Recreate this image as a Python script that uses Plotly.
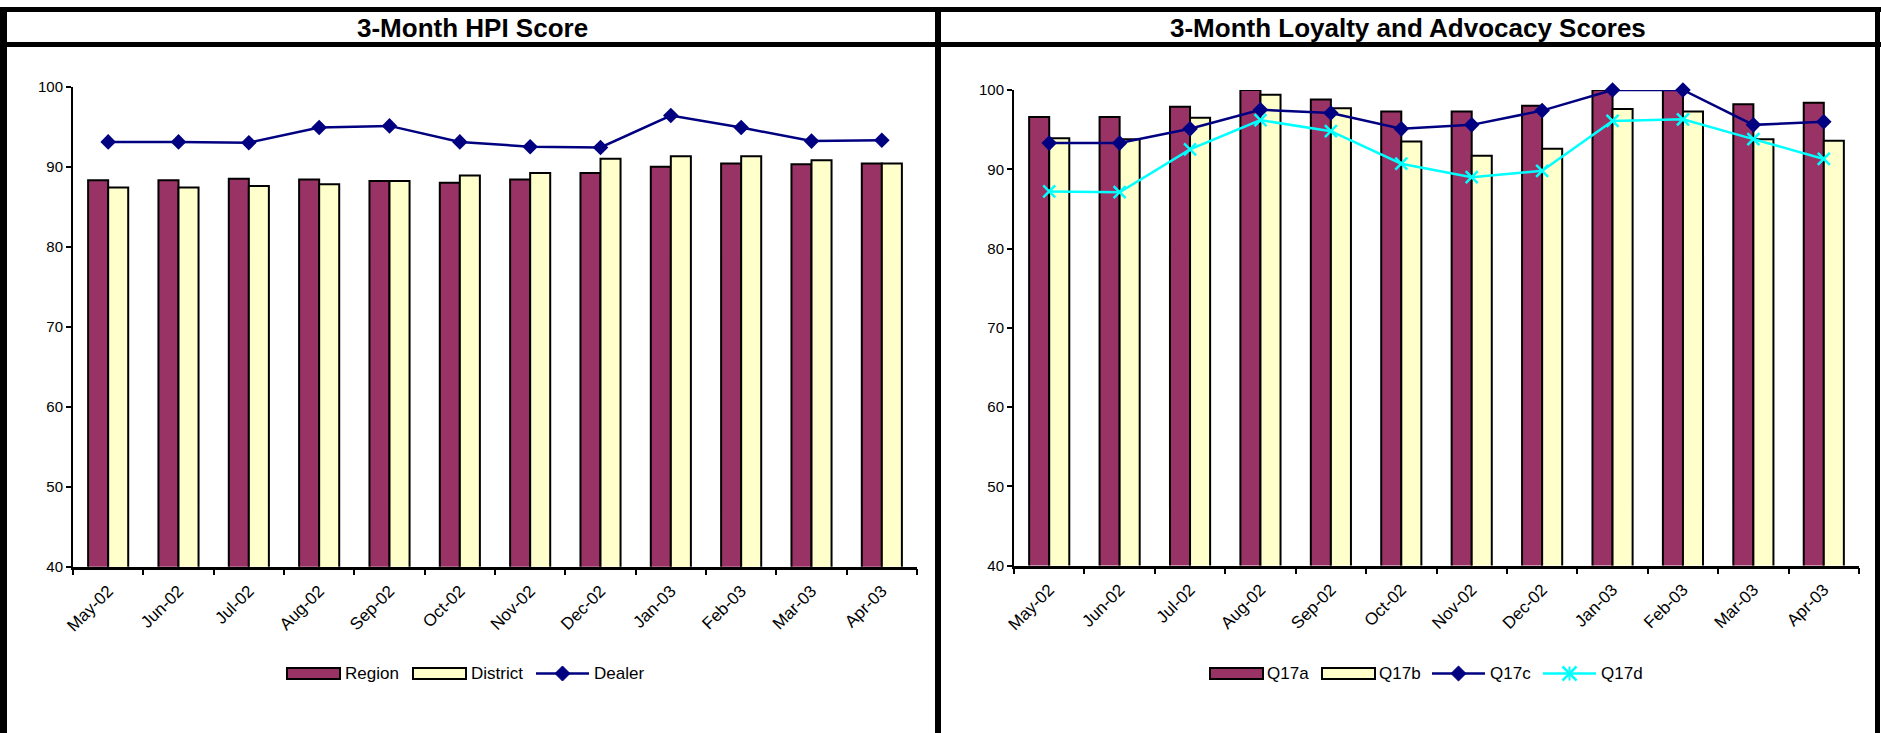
import plotly.graph_objects as go

W, H = 1881, 733

months = ["May-02", "Jun-02", "Jul-02", "Aug-02", "Sep-02", "Oct-02",
          "Nov-02", "Dec-02", "Jan-03", "Feb-03", "Mar-03", "Apr-03"]

# 3-Month HPI Score
region = [88.3, 88.3, 88.5, 88.4, 88.2, 88.0, 88.4, 89.2, 90.0, 90.4, 90.3, 90.4]
district = [87.4, 87.4, 87.6, 87.8, 88.2, 88.9, 89.2, 91.0, 91.3, 91.3, 90.8, 90.4]
dealer = [93.1, 93.1, 93.0, 94.9, 95.1, 93.1, 92.5, 92.4, 96.4, 94.9, 93.2, 93.3]

# 3-Month Loyalty and Advocacy Scores
q17a = [96.6, 96.6, 97.9, 100.0, 98.8, 97.3, 97.3, 98.0, 100.0, 100.0, 98.2, 98.4]
q17b = [93.9, 93.8, 96.5, 99.4, 97.7, 93.5, 91.7, 92.6, 97.6, 97.3, 93.8, 93.6]
q17c = [93.3, 93.3, 95.1, 97.5, 97.1, 95.1, 95.6, 97.4, 100.0, 100.0, 95.6, 96.0]
q17d = [87.2, 87.1, 92.5, 96.2, 94.8, 90.7, 89.0, 89.8, 96.1, 96.3, 93.8, 91.3]

PLUM = "#993366"
CREAM = "#FFFFCC"
NAVY = "#000080"
CYAN = "#00FFFF"
FONT = "Liberation Sans, Arial, sans-serif"


def px_x(v):
    return v / W


def px_y(v):
    return 1 - v / H


bar_line = dict(color="black", width=2)
styles = {
    "Region": ("bar", PLUM), "District": ("bar", CREAM), "Dealer": ("diamond", NAVY),
    "Q17a": ("bar", PLUM), "Q17b": ("bar", CREAM), "Q17c": ("diamond", NAVY),
    "Q17d": ("x", CYAN),
}


def bar(name, vals, ax):
    return go.Bar(x=months, y=vals, name=name, xaxis="x" + ax, yaxis="y" + ax,
                  marker=dict(color=styles[name][1], line=bar_line))


def line(name, vals, ax):
    kind, color = styles[name]
    if kind == "diamond":
        marker = dict(symbol="diamond", size=12, color=color)
    else:
        marker = dict(symbol="x-thin", size=12, color=color, line=dict(color=color, width=2.5))
    return go.Scatter(x=months, y=vals, name=name, mode="lines+markers", cliponaxis=False,
                      xaxis="x" + ax, yaxis="y" + ax, line=dict(color=color, width=2.5),
                      marker=marker)


fig = go.Figure([
    bar("Region", region, ""), bar("District", district, ""), line("Dealer", dealer, ""),
    bar("Q17a", q17a, "2"), bar("Q17b", q17b, "2"),
    line("Q17c", q17c, "2"), line("Q17d", q17d, "2"),
])

xaxis_common = dict(type="category", range=[-0.5, 11.5], showline=True, linecolor="black",
                    linewidth=2.5, ticks="outside", tickson="boundaries", ticklen=6,
                    tickwidth=2, tickcolor="black", tickangle=-45, showgrid=False,
                    zeroline=False, tickfont=dict(family=FONT, size=17, color="black"),
                    ticklabelstandoff=5, automargin=False, fixedrange=True)
yaxis_common = dict(range=[40, 100], dtick=10, showline=True, linecolor="black", linewidth=2,
                    ticks="outside", ticklen=5, tickwidth=2, tickcolor="black",
                    showgrid=False, zeroline=False, automargin=False,
                    tickfont=dict(family=FONT, size=15, color="black"), fixedrange=True)

shapes = []
annotations = []

# panel frames and title bands
for y in (9.5, 44.5):
    shapes.append(dict(type="line", xref="paper", yref="paper", x0=0, x1=1,
                       y0=px_y(y), y1=px_y(y), line=dict(color="black", width=5)))
for x, w in ((3.5, 7), (938, 6), (1877.5, 5)):
    shapes.append(dict(type="line", xref="paper", yref="paper", x0=px_x(x), x1=px_x(x),
                       y0=0, y1=px_y(7), line=dict(color="black", width=w)))

title_font = dict(family=FONT, size=26, color="black")
for text, cx in (("3-Month HPI Score", 472), ("3-Month Loyalty and Advocacy Scores", 1408)):
    annotations.append(dict(text="<b>%s</b>" % text, x=px_x(cx), y=px_y(27.5), xref="paper",
                            yref="paper", xanchor="center", yanchor="middle", showarrow=False,
                            font=title_font))

# legend rows: (series name, swatch left edge, label left edge)
legend_rows = [
    [("Region", 287, 343), ("District", 413, 469), ("Dealer", 536, 592)],
    [("Q17a", 1210, 1265), ("Q17b", 1322, 1377), ("Q17c", 1432, 1488), ("Q17d", 1543, 1599)],
]
LY = 673.5
SW = 53
for row in legend_rows:
    for name, sx, tx in row:
        kind, color = styles[name]
        if kind == "bar":
            shapes.append(dict(type="rect", xref="paper", yref="paper",
                               x0=px_x(sx), x1=px_x(sx + SW), y0=px_y(LY - 5.5), y1=px_y(LY + 5.5),
                               fillcolor=color, line=dict(color="black", width=2)))
        else:
            shapes.append(dict(type="line", xref="paper", yref="paper",
                               x0=px_x(sx), x1=px_x(sx + SW), y0=px_y(LY), y1=px_y(LY),
                               line=dict(color=color, width=2.5)))
            cx = sx + SW / 2
            if kind == "diamond":
                r = 7.5
                path = "M %f %f L %f %f L %f %f L %f %f Z" % (
                    px_x(cx - r), px_y(LY), px_x(cx), px_y(LY - r),
                    px_x(cx + r), px_y(LY), px_x(cx), px_y(LY + r))
                shapes.append(dict(type="path", xref="paper", yref="paper", path=path,
                                   fillcolor=color, line=dict(color=color, width=1)))
            else:
                r = 7
                for d in (1, -1):
                    shapes.append(dict(type="line", xref="paper", yref="paper",
                                       x0=px_x(cx - r), x1=px_x(cx + r),
                                       y0=px_y(LY - d * r), y1=px_y(LY + d * r),
                                       line=dict(color=color, width=2.5)))
                shapes.append(dict(type="line", xref="paper", yref="paper",
                                   x0=px_x(cx), x1=px_x(cx), y0=px_y(LY - r), y1=px_y(LY + r),
                                   line=dict(color=color, width=2)))
        annotations.append(dict(text=name, x=px_x(tx), y=px_y(LY), xref="paper", yref="paper",
                                xanchor="left", yanchor="middle", showarrow=False,
                                font=dict(family=FONT, size=17, color="black")))

fig.update_layout(
    width=W, height=H, margin=dict(l=0, r=0, t=0, b=0, autoexpand=False),
    paper_bgcolor="white", plot_bgcolor="white",
    barmode="group", bargap=0.43, bargroupgap=0, showlegend=False,
    xaxis=dict(xaxis_common, domain=[px_x(73), px_x(917)], anchor="y"),
    yaxis=dict(yaxis_common, domain=[px_y(566.7), px_y(86.7)], anchor="x"),
    xaxis2=dict(xaxis_common, domain=[px_x(1014), px_x(1859)], anchor="y2"),
    yaxis2=dict(yaxis_common, domain=[px_y(565.5), px_y(90)], anchor="x2"),
    shapes=shapes,
    annotations=annotations,
)

fig.write_html("out.html", config=dict(displayModeBar=False))
